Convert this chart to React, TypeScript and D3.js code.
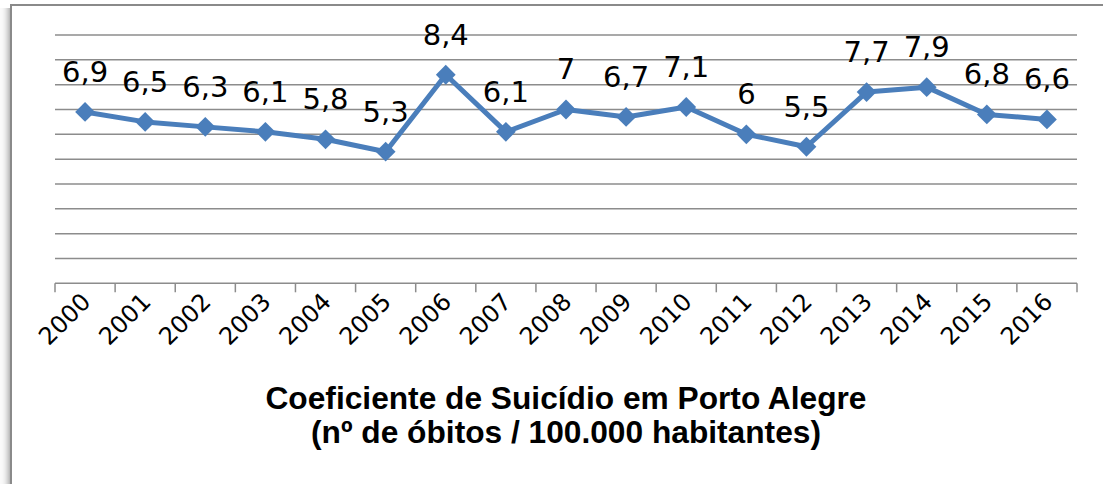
import React from "react";
import * as d3 from "d3";

const years = ["2000","2001","2002","2003","2004","2005","2006","2007","2008","2009","2010","2011","2012","2013","2014","2015","2016"];
const values = [6.9, 6.5, 6.3, 6.1, 5.8, 5.3, 8.4, 6.1, 7, 6.7, 7.1, 6, 5.5, 7.7, 7.9, 6.8, 6.6];
const yTicks = [0,1,2,3,4,5,6,7,8,9,10];
const titleLines = ["Coeficiente de Suicídio em Porto Alegre", "(nº de óbitos / 100.000 habitantes)"];

const W = 1103, H = 484;
const left = 55, right = 1077, top = 35, bottom = 283.3;

export default function App() {
  const x = d3.scaleBand<string>().domain(years).range([left, right]);
  const y = d3.scaleLinear().domain([0, 10]).range([bottom, top]);
  const cx = (yr: string) => (x(yr) as number) + x.bandwidth() / 2;
  const line = d3.line<number>().x((_, i) => cx(years[i])).y((d) => y(d));
  const fmt = (v: number) => String(v).replace(".", ",");
  const boundaries = years.map((yr) => x(yr) as number).concat([right]);
  const shadow = [0, 1, 2, 3, 4, 5, 6, 7, 8, 9, 10];
  return (
    <svg width={W} height={H} style={{ position: "absolute", left: 0, top: 0, background: "#fff" }}>
      {shadow.map((s) => (
        <line key={s} x1={s + 0.5} x2={s + 0.5} y1={8} y2={H} stroke="#000" strokeOpacity={0.02 + 0.3 * Math.pow(s / 10, 2)} />
      ))}
      <rect x={11} y={5} width={1120} height={500} fill="#fff" stroke="#8a8a8a" strokeWidth={2} />
      {yTicks.map((t) => (
        <line key={t} x1={left} x2={right} y1={y(t)} y2={y(t)} stroke="#8c8c8c" strokeWidth={1.5} />
      ))}
      {boundaries.map((b, i) => (
        <line key={i} x1={b} x2={b} y1={bottom} y2={bottom + 9} stroke="#8c8c8c" strokeWidth={1.5} />
      ))}
      <path d={line(values) || ""} fill="none" stroke="#4a7ebb" strokeWidth={5} strokeLinejoin="round" />
      {values.map((v, i) => (
        <rect key={i} x={-7} y={-7} width={14} height={14} fill="#4a7ebb"
          transform={`translate(${cx(years[i])},${y(v)}) rotate(45)`} />
      ))}
      {values.map((v, i) => (
        <text key={i} x={cx(years[i])} y={y(v) - 30} textAnchor="middle"
          fontFamily="DejaVu Sans" fontSize={29} fill="#000">{fmt(v)}</text>
      ))}
      {years.map((yr) => (
        <text key={yr} transform={`translate(${cx(yr) + 7},${bottom + 20}) rotate(-45)`} textAnchor="end"
          fontFamily="DejaVu Sans" fontSize={24} fill="#000">{yr}</text>
      ))}
      {titleLines.map((t, i) => (
        <text key={i} x={566} y={409 + i * 34} textAnchor="middle" fontFamily="Liberation Sans, Arial"
          fontWeight="bold" fontSize={31.7} fill="#000">{t}</text>
      ))}
    </svg>
  );
}
